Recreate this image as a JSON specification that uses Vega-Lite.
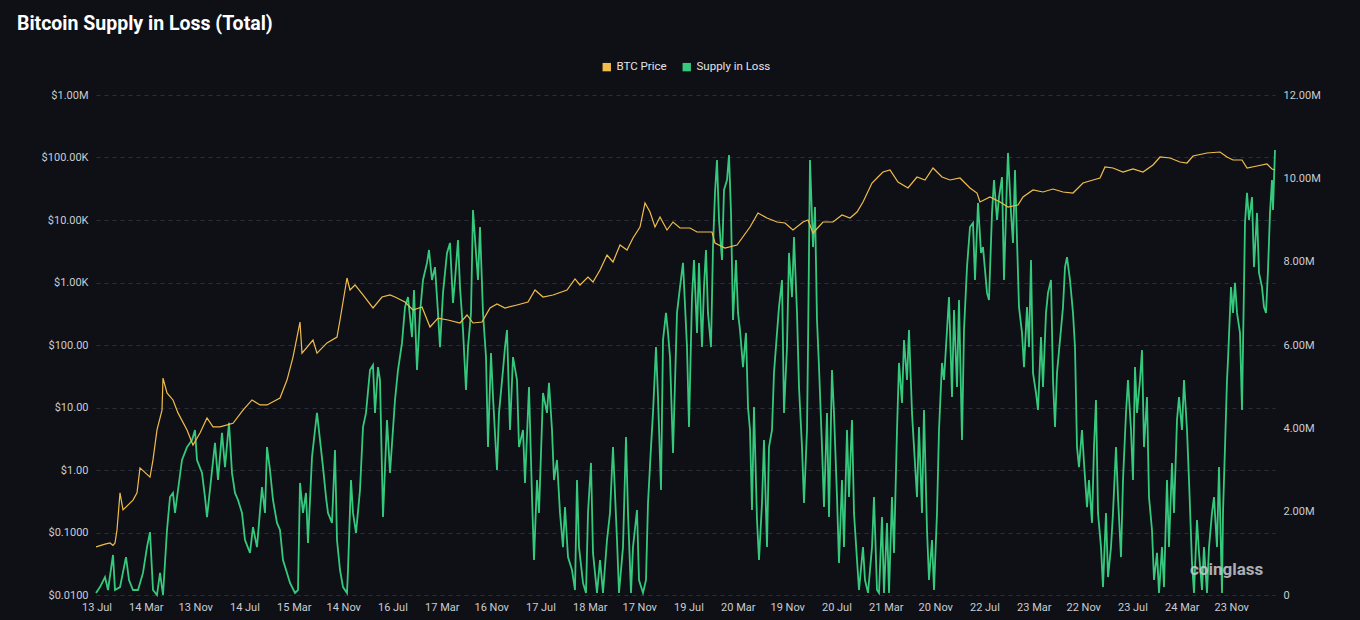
{
  "$schema": "https://vega.github.io/schema/vega-lite/v6.json",
  "width": 1179,
  "height": 500,
  "autosize": {"type": "none"},
  "padding": {"left": 96, "top": 95, "right": 85, "bottom": 25},
  "background": "#0e1016",
  "title": {
    "text": "Bitcoin Supply in Loss (Total)",
    "anchor": "start",
    "frame": "group",
    "dx": -79,
    "offset": 27,
    "font": "Roboto",
    "fontSize": 19.5,
    "fontWeight": "bold",
    "color": "#ffffff"
  },
  "datasets": {
    "price": [
      {"day": 0, "price": 0.059}, {"day": 45, "price": 0.065}, {"day": 70, "price": 0.068}, {"day": 85, "price": 0.062},
      {"day": 95, "price": 0.068}, {"day": 105, "price": 0.11}, {"day": 120, "price": 0.43}, {"day": 135, "price": 0.23},
      {"day": 185, "price": 0.33}, {"day": 205, "price": 0.43}, {"day": 220, "price": 1.08}, {"day": 270, "price": 0.77},
      {"day": 285, "price": 1.45}, {"day": 305, "price": 4.37}, {"day": 330, "price": 9.1}, {"day": 335, "price": 29.6},
      {"day": 355, "price": 17.1}, {"day": 385, "price": 13.2}, {"day": 410, "price": 8.2}, {"day": 455, "price": 4.37},
      {"day": 485, "price": 2.51}, {"day": 520, "price": 3.9}, {"day": 555, "price": 6.8}, {"day": 585, "price": 4.9},
      {"day": 620, "price": 4.9}, {"day": 685, "price": 5.6}, {"day": 735, "price": 9.1}, {"day": 780, "price": 13.2},
      {"day": 820, "price": 11.0}, {"day": 855, "price": 11.0}, {"day": 920, "price": 14.2}, {"day": 955, "price": 27.5},
      {"day": 985, "price": 64}, {"day": 1020, "price": 233}, {"day": 1030, "price": 74}, {"day": 1085, "price": 120},
      {"day": 1105, "price": 74}, {"day": 1155, "price": 108}, {"day": 1205, "price": 134}, {"day": 1220, "price": 251},
      {"day": 1255, "price": 1180}, {"day": 1270, "price": 759}, {"day": 1295, "price": 912}, {"day": 1335, "price": 631},
      {"day": 1385, "price": 391}, {"day": 1430, "price": 586}, {"day": 1470, "price": 631}, {"day": 1495, "price": 586},
      {"day": 1545, "price": 488}, {"day": 1585, "price": 363}, {"day": 1630, "price": 406}, {"day": 1670, "price": 194},
      {"day": 1710, "price": 270}, {"day": 1760, "price": 251}, {"day": 1820, "price": 225}, {"day": 1855, "price": 302},
      {"day": 1885, "price": 225}, {"day": 1930, "price": 233}, {"day": 1970, "price": 391}, {"day": 2005, "price": 453},
      {"day": 2045, "price": 391}, {"day": 2105, "price": 437}, {"day": 2160, "price": 488}, {"day": 2195, "price": 759},
      {"day": 2235, "price": 586}, {"day": 2285, "price": 631}, {"day": 2355, "price": 759}, {"day": 2395, "price": 1138},
      {"day": 2420, "price": 912}, {"day": 2460, "price": 1225}, {"day": 2485, "price": 1019}, {"day": 2520, "price": 1585},
      {"day": 2555, "price": 2754}, {"day": 2585, "price": 2128}, {"day": 2620, "price": 3981}, {"day": 2655, "price": 3311},
      {"day": 2685, "price": 5152}, {"day": 2720, "price": 7727}, {"day": 2745, "price": 18700}, {"day": 2770, "price": 13430},
      {"day": 2795, "price": 7727}, {"day": 2820, "price": 11170}, {"day": 2855, "price": 6918}, {"day": 2885, "price": 9290},
      {"day": 2920, "price": 7447}, {"day": 2970, "price": 7447}, {"day": 3005, "price": 6427}, {"day": 3080, "price": 6427},
      {"day": 3095, "price": 4285}, {"day": 3145, "price": 3565}, {"day": 3205, "price": 3981}, {"day": 3270, "price": 7727},
      {"day": 3310, "price": 12940}, {"day": 3355, "price": 10770}, {"day": 3405, "price": 9290}, {"day": 3445, "price": 8954},
      {"day": 3485, "price": 6918}, {"day": 3535, "price": 9290}, {"day": 3560, "price": 10000}, {"day": 3585, "price": 6194},
      {"day": 3635, "price": 9290}, {"day": 3685, "price": 9290}, {"day": 3730, "price": 12020}, {"day": 3770, "price": 10770},
      {"day": 3805, "price": 13430}, {"day": 3835, "price": 19410}, {"day": 3880, "price": 39080}, {"day": 3910, "price": 48750},
      {"day": 3935, "price": 58610}, {"day": 3970, "price": 63100}, {"day": 4010, "price": 40550}, {"day": 4060, "price": 32510},
      {"day": 4105, "price": 48750}, {"day": 4145, "price": 43650}, {"day": 4185, "price": 67920}, {"day": 4230, "price": 48750},
      {"day": 4270, "price": 43650}, {"day": 4320, "price": 46990}, {"day": 4370, "price": 32510}, {"day": 4405, "price": 27040},
      {"day": 4420, "price": 19410}, {"day": 4470, "price": 23330}, {"day": 4520, "price": 19410}, {"day": 4560, "price": 16140},
      {"day": 4610, "price": 17380}, {"day": 4635, "price": 23330}, {"day": 4685, "price": 30200}, {"day": 4735, "price": 28050},
      {"day": 4785, "price": 31330}, {"day": 4835, "price": 28050}, {"day": 4885, "price": 27040}, {"day": 4935, "price": 39080},
      {"day": 4985, "price": 43650}, {"day": 5020, "price": 46990}, {"day": 5045, "price": 70470}, {"day": 5085, "price": 67920},
      {"day": 5135, "price": 58610}, {"day": 5185, "price": 65460}, {"day": 5235, "price": 58610}, {"day": 5285, "price": 75860},
      {"day": 5320, "price": 101900}, {"day": 5370, "price": 98200}, {"day": 5420, "price": 84720}, {"day": 5455, "price": 81660},
      {"day": 5485, "price": 105700}, {"day": 5555, "price": 118000}, {"day": 5620, "price": 122500}, {"day": 5655, "price": 101900},
      {"day": 5685, "price": 91200}, {"day": 5730, "price": 91200}, {"day": 5755, "price": 67920}, {"day": 5805, "price": 73110},
      {"day": 5855, "price": 78700}, {"day": 5880, "price": 65460}, {"day": 5895, "price": 63100}
    ],
    "loss": [
      {"day": 0, "loss": 0.05}, {"day": 20, "loss": 0.19}, {"day": 45, "loss": 0.43}, {"day": 60, "loss": 0.12},
      {"day": 85, "loss": 0.96}, {"day": 95, "loss": 0.12}, {"day": 120, "loss": 0.19}, {"day": 150, "loss": 0.91},
      {"day": 165, "loss": 0.36}, {"day": 185, "loss": 0.12}, {"day": 210, "loss": 0.12}, {"day": 235, "loss": 0.53},
      {"day": 255, "loss": 1.15}, {"day": 270, "loss": 1.51}, {"day": 285, "loss": 0.12}, {"day": 305, "loss": 0.0},
      {"day": 320, "loss": 0.53}, {"day": 335, "loss": 0.0}, {"day": 355, "loss": 1.56}, {"day": 370, "loss": 2.35},
      {"day": 385, "loss": 2.45}, {"day": 395, "loss": 1.97}, {"day": 410, "loss": 2.52}, {"day": 430, "loss": 3.24},
      {"day": 455, "loss": 3.55}, {"day": 480, "loss": 3.72}, {"day": 495, "loss": 3.96}, {"day": 505, "loss": 3.24},
      {"day": 530, "loss": 2.93}, {"day": 545, "loss": 2.35}, {"day": 555, "loss": 1.87}, {"day": 575, "loss": 2.76},
      {"day": 595, "loss": 3.65}, {"day": 610, "loss": 2.76}, {"day": 630, "loss": 3.89}, {"day": 645, "loss": 3.07},
      {"day": 665, "loss": 4.13}, {"day": 680, "loss": 2.93}, {"day": 695, "loss": 2.45}, {"day": 710, "loss": 2.28},
      {"day": 730, "loss": 1.97}, {"day": 745, "loss": 1.32}, {"day": 770, "loss": 1.01}, {"day": 785, "loss": 1.63},
      {"day": 805, "loss": 1.15}, {"day": 830, "loss": 2.59}, {"day": 845, "loss": 1.97}, {"day": 855, "loss": 3.55},
      {"day": 870, "loss": 3.0}, {"day": 885, "loss": 2.28}, {"day": 905, "loss": 1.73}, {"day": 920, "loss": 1.56},
      {"day": 935, "loss": 0.84}, {"day": 955, "loss": 0.53}, {"day": 970, "loss": 0.29}, {"day": 995, "loss": 0.05},
      {"day": 1010, "loss": 0.12}, {"day": 1020, "loss": 2.69}, {"day": 1035, "loss": 1.97}, {"day": 1050, "loss": 2.45},
      {"day": 1060, "loss": 1.25}, {"day": 1080, "loss": 3.31}, {"day": 1095, "loss": 3.96}, {"day": 1105, "loss": 4.37},
      {"day": 1120, "loss": 3.72}, {"day": 1135, "loss": 3.07}, {"day": 1150, "loss": 2.35}, {"day": 1160, "loss": 1.97},
      {"day": 1180, "loss": 1.73}, {"day": 1195, "loss": 3.48}, {"day": 1205, "loss": 1.32}, {"day": 1220, "loss": 0.6},
      {"day": 1235, "loss": 0.19}, {"day": 1255, "loss": 0.05}, {"day": 1260, "loss": 0.6}, {"day": 1275, "loss": 2.76},
      {"day": 1285, "loss": 1.97}, {"day": 1300, "loss": 1.49}, {"day": 1320, "loss": 2.52}, {"day": 1335, "loss": 4.03},
      {"day": 1350, "loss": 4.37}, {"day": 1370, "loss": 5.4}, {"day": 1385, "loss": 5.52}, {"day": 1395, "loss": 4.37},
      {"day": 1410, "loss": 5.47}, {"day": 1420, "loss": 5.16}, {"day": 1435, "loss": 1.87}, {"day": 1455, "loss": 4.2},
      {"day": 1470, "loss": 2.93}, {"day": 1495, "loss": 4.68}, {"day": 1510, "loss": 5.4}, {"day": 1530, "loss": 6.05},
      {"day": 1545, "loss": 6.91}, {"day": 1560, "loss": 7.15}, {"day": 1580, "loss": 6.19}, {"day": 1590, "loss": 7.32},
      {"day": 1605, "loss": 5.4}, {"day": 1620, "loss": 6.77}, {"day": 1635, "loss": 7.56}, {"day": 1655, "loss": 7.97},
      {"day": 1665, "loss": 8.28}, {"day": 1680, "loss": 7.56}, {"day": 1695, "loss": 7.87}, {"day": 1710, "loss": 6.77},
      {"day": 1720, "loss": 5.95}, {"day": 1735, "loss": 7.25}, {"day": 1755, "loss": 8.21}, {"day": 1770, "loss": 8.45},
      {"day": 1785, "loss": 7.01}, {"day": 1795, "loss": 7.56}, {"day": 1810, "loss": 8.52}, {"day": 1820, "loss": 7.39},
      {"day": 1835, "loss": 6.36}, {"day": 1850, "loss": 4.92}, {"day": 1860, "loss": 5.95}, {"day": 1875, "loss": 6.77},
      {"day": 1885, "loss": 9.24}, {"day": 1900, "loss": 8.21}, {"day": 1910, "loss": 7.56}, {"day": 1920, "loss": 8.83},
      {"day": 1935, "loss": 6.77}, {"day": 1950, "loss": 5.71}, {"day": 1960, "loss": 3.55}, {"day": 1975, "loss": 5.81},
      {"day": 1985, "loss": 4.75}, {"day": 2005, "loss": 3.0}, {"day": 2015, "loss": 4.37}, {"day": 2035, "loss": 5.4},
      {"day": 2045, "loss": 5.95}, {"day": 2055, "loss": 6.36}, {"day": 2070, "loss": 3.96}, {"day": 2085, "loss": 5.71},
      {"day": 2105, "loss": 5.16}, {"day": 2115, "loss": 3.55}, {"day": 2135, "loss": 3.96}, {"day": 2145, "loss": 2.69},
      {"day": 2165, "loss": 4.99}, {"day": 2180, "loss": 2.35}, {"day": 2190, "loss": 0.84}, {"day": 2205, "loss": 2.76},
      {"day": 2215, "loss": 1.97}, {"day": 2235, "loss": 4.85}, {"day": 2255, "loss": 4.37}, {"day": 2265, "loss": 5.09},
      {"day": 2280, "loss": 3.96}, {"day": 2290, "loss": 2.76}, {"day": 2305, "loss": 3.24}, {"day": 2320, "loss": 1.97},
      {"day": 2335, "loss": 1.15}, {"day": 2345, "loss": 2.11}, {"day": 2360, "loss": 0.91}, {"day": 2380, "loss": 0.6},
      {"day": 2395, "loss": 0.12}, {"day": 2405, "loss": 2.76}, {"day": 2415, "loss": 1.15}, {"day": 2435, "loss": 0.29},
      {"day": 2450, "loss": 0.05}, {"day": 2460, "loss": 1.97}, {"day": 2475, "loss": 3.17}, {"day": 2485, "loss": 1.01},
      {"day": 2505, "loss": 0.05}, {"day": 2520, "loss": 0.84}, {"day": 2535, "loss": 0.05}, {"day": 2555, "loss": 1.32},
      {"day": 2570, "loss": 1.97}, {"day": 2585, "loss": 3.55}, {"day": 2605, "loss": 1.32}, {"day": 2615, "loss": 0.05},
      {"day": 2635, "loss": 1.15}, {"day": 2650, "loss": 3.79}, {"day": 2660, "loss": 1.97}, {"day": 2675, "loss": 0.05},
      {"day": 2685, "loss": 1.15}, {"day": 2705, "loss": 2.04}, {"day": 2715, "loss": 0.36}, {"day": 2735, "loss": 0.05},
      {"day": 2750, "loss": 0.36}, {"day": 2760, "loss": 2.21}, {"day": 2775, "loss": 3.55}, {"day": 2785, "loss": 4.37},
      {"day": 2800, "loss": 5.95}, {"day": 2810, "loss": 4.75}, {"day": 2825, "loss": 2.52}, {"day": 2835, "loss": 6.12},
      {"day": 2850, "loss": 6.77}, {"day": 2860, "loss": 6.29}, {"day": 2870, "loss": 5.71}, {"day": 2885, "loss": 3.41},
      {"day": 2905, "loss": 6.77}, {"day": 2920, "loss": 7.39}, {"day": 2935, "loss": 7.97}, {"day": 2955, "loss": 5.95},
      {"day": 2965, "loss": 4.03}, {"day": 2980, "loss": 7.15}, {"day": 2990, "loss": 8.04}, {"day": 3005, "loss": 6.29},
      {"day": 3015, "loss": 7.97}, {"day": 3030, "loss": 5.95}, {"day": 3040, "loss": 7.39}, {"day": 3050, "loss": 8.28},
      {"day": 3060, "loss": 6.77}, {"day": 3075, "loss": 5.95}, {"day": 3085, "loss": 8.35}, {"day": 3095, "loss": 9.65},
      {"day": 3105, "loss": 10.44}, {"day": 3115, "loss": 9.0}, {"day": 3130, "loss": 8.04}, {"day": 3140, "loss": 9.72},
      {"day": 3155, "loss": 9.96}, {"day": 3165, "loss": 10.56}, {"day": 3175, "loss": 9.17}, {"day": 3185, "loss": 6.6},
      {"day": 3200, "loss": 8.04}, {"day": 3210, "loss": 6.77}, {"day": 3220, "loss": 6.36}, {"day": 3235, "loss": 5.47},
      {"day": 3250, "loss": 6.29}, {"day": 3260, "loss": 4.51}, {"day": 3270, "loss": 3.96}, {"day": 3280, "loss": 2.04},
      {"day": 3290, "loss": 4.51}, {"day": 3305, "loss": 1.8}, {"day": 3315, "loss": 0.84}, {"day": 3330, "loss": 2.21},
      {"day": 3340, "loss": 3.72}, {"day": 3355, "loss": 1.15}, {"day": 3365, "loss": 3.55}, {"day": 3380, "loss": 3.96},
      {"day": 3390, "loss": 5.33}, {"day": 3405, "loss": 6.29}, {"day": 3415, "loss": 6.91}, {"day": 3430, "loss": 7.56},
      {"day": 3440, "loss": 4.37}, {"day": 3455, "loss": 5.95}, {"day": 3465, "loss": 8.21}, {"day": 3480, "loss": 7.15},
      {"day": 3490, "loss": 8.59}, {"day": 3505, "loss": 6.77}, {"day": 3515, "loss": 4.99}, {"day": 3530, "loss": 3.55},
      {"day": 3540, "loss": 2.21}, {"day": 3555, "loss": 3.96}, {"day": 3560, "loss": 5.95}, {"day": 3570, "loss": 10.44},
      {"day": 3585, "loss": 8.35}, {"day": 3595, "loss": 9.31}, {"day": 3605, "loss": 6.6}, {"day": 3615, "loss": 5.47},
      {"day": 3630, "loss": 3.55}, {"day": 3640, "loss": 2.11}, {"day": 3655, "loss": 4.37}, {"day": 3665, "loss": 1.87},
      {"day": 3680, "loss": 5.4}, {"day": 3690, "loss": 4.37}, {"day": 3705, "loss": 2.35}, {"day": 3715, "loss": 0.77},
      {"day": 3730, "loss": 2.76}, {"day": 3740, "loss": 1.15}, {"day": 3755, "loss": 3.96}, {"day": 3765, "loss": 2.35},
      {"day": 3780, "loss": 4.2}, {"day": 3790, "loss": 1.97}, {"day": 3805, "loss": 0.84}, {"day": 3815, "loss": 0.12},
      {"day": 3835, "loss": 1.15}, {"day": 3845, "loss": 0.36}, {"day": 3860, "loss": 0.05}, {"day": 3880, "loss": 1.15},
      {"day": 3890, "loss": 2.35}, {"day": 3905, "loss": 0.12}, {"day": 3915, "loss": 0.05}, {"day": 3930, "loss": 1.87},
      {"day": 3940, "loss": 0.05}, {"day": 3955, "loss": 1.73}, {"day": 3965, "loss": 0.05}, {"day": 3980, "loss": 2.35},
      {"day": 3990, "loss": 1.01}, {"day": 4005, "loss": 3.96}, {"day": 4015, "loss": 5.57}, {"day": 4030, "loss": 4.61},
      {"day": 4040, "loss": 6.12}, {"day": 4055, "loss": 5.16}, {"day": 4065, "loss": 6.36}, {"day": 4080, "loss": 4.37},
      {"day": 4090, "loss": 3.55}, {"day": 4105, "loss": 2.35}, {"day": 4115, "loss": 4.03}, {"day": 4130, "loss": 1.97},
      {"day": 4140, "loss": 4.44}, {"day": 4155, "loss": 1.56}, {"day": 4165, "loss": 0.36}, {"day": 4180, "loss": 1.32},
      {"day": 4190, "loss": 0.12}, {"day": 4205, "loss": 1.97}, {"day": 4215, "loss": 3.96}, {"day": 4230, "loss": 5.57},
      {"day": 4240, "loss": 5.16}, {"day": 4255, "loss": 6.36}, {"day": 4265, "loss": 7.15}, {"day": 4280, "loss": 4.75},
      {"day": 4290, "loss": 6.84}, {"day": 4305, "loss": 4.99}, {"day": 4315, "loss": 7.08}, {"day": 4330, "loss": 3.72},
      {"day": 4340, "loss": 6.36}, {"day": 4355, "loss": 7.87}, {"day": 4370, "loss": 8.83}, {"day": 4385, "loss": 8.93},
      {"day": 4395, "loss": 7.56}, {"day": 4410, "loss": 9.41}, {"day": 4425, "loss": 8.21}, {"day": 4435, "loss": 8.35},
      {"day": 4455, "loss": 7.25}, {"day": 4465, "loss": 7.08}, {"day": 4480, "loss": 9.17}, {"day": 4490, "loss": 9.96},
      {"day": 4505, "loss": 9.0}, {"day": 4515, "loss": 9.55}, {"day": 4530, "loss": 10.03}, {"day": 4540, "loss": 7.56},
      {"day": 4555, "loss": 9.96}, {"day": 4560, "loss": 10.61}, {"day": 4575, "loss": 9.17}, {"day": 4585, "loss": 8.45},
      {"day": 4595, "loss": 10.2}, {"day": 4605, "loss": 8.52}, {"day": 4615, "loss": 6.91}, {"day": 4630, "loss": 6.29},
      {"day": 4640, "loss": 5.47}, {"day": 4655, "loss": 6.91}, {"day": 4665, "loss": 5.95}, {"day": 4675, "loss": 8.04},
      {"day": 4685, "loss": 5.33}, {"day": 4700, "loss": 4.85}, {"day": 4710, "loss": 4.44}, {"day": 4725, "loss": 6.19},
      {"day": 4735, "loss": 4.99}, {"day": 4750, "loss": 6.77}, {"day": 4760, "loss": 7.25}, {"day": 4775, "loss": 7.56},
      {"day": 4785, "loss": 5.16}, {"day": 4795, "loss": 4.03}, {"day": 4805, "loss": 5.33}, {"day": 4820, "loss": 6.12},
      {"day": 4835, "loss": 6.91}, {"day": 4845, "loss": 7.87}, {"day": 4855, "loss": 8.11}, {"day": 4870, "loss": 7.56},
      {"day": 4885, "loss": 6.77}, {"day": 4895, "loss": 5.95}, {"day": 4905, "loss": 3.55}, {"day": 4915, "loss": 3.07},
      {"day": 4930, "loss": 3.96}, {"day": 4940, "loss": 3.17}, {"day": 4955, "loss": 2.11}, {"day": 4965, "loss": 2.76},
      {"day": 4980, "loss": 1.73}, {"day": 4990, "loss": 3.55}, {"day": 5000, "loss": 4.68}, {"day": 5010, "loss": 1.97},
      {"day": 5025, "loss": 1.15}, {"day": 5035, "loss": 0.19}, {"day": 5050, "loss": 1.97}, {"day": 5060, "loss": 0.43},
      {"day": 5075, "loss": 1.15}, {"day": 5085, "loss": 1.97}, {"day": 5100, "loss": 3.55}, {"day": 5110, "loss": 2.35},
      {"day": 5125, "loss": 0.91}, {"day": 5135, "loss": 2.76}, {"day": 5150, "loss": 4.37}, {"day": 5160, "loss": 5.16},
      {"day": 5175, "loss": 3.96}, {"day": 5185, "loss": 2.76}, {"day": 5195, "loss": 5.47}, {"day": 5205, "loss": 4.37},
      {"day": 5220, "loss": 5.16}, {"day": 5230, "loss": 5.88}, {"day": 5240, "loss": 3.55}, {"day": 5255, "loss": 4.75},
      {"day": 5265, "loss": 2.35}, {"day": 5280, "loss": 1.56}, {"day": 5290, "loss": 0.36}, {"day": 5305, "loss": 1.01},
      {"day": 5315, "loss": 0.05}, {"day": 5330, "loss": 1.15}, {"day": 5340, "loss": 0.19}, {"day": 5355, "loss": 2.76},
      {"day": 5365, "loss": 1.15}, {"day": 5380, "loss": 3.17}, {"day": 5390, "loss": 1.97}, {"day": 5405, "loss": 4.2},
      {"day": 5415, "loss": 4.75}, {"day": 5430, "loss": 3.96}, {"day": 5440, "loss": 5.16}, {"day": 5455, "loss": 3.96},
      {"day": 5465, "loss": 2.76}, {"day": 5480, "loss": 0.77}, {"day": 5490, "loss": 0.05}, {"day": 5505, "loss": 1.8},
      {"day": 5515, "loss": 1.01}, {"day": 5530, "loss": 0.12}, {"day": 5540, "loss": 1.15}, {"day": 5555, "loss": 0.05},
      {"day": 5565, "loss": 1.15}, {"day": 5580, "loss": 1.97}, {"day": 5590, "loss": 2.35}, {"day": 5605, "loss": 1.15},
      {"day": 5615, "loss": 3.07}, {"day": 5630, "loss": 0.05}, {"day": 5635, "loss": 1.97}, {"day": 5645, "loss": 3.55},
      {"day": 5655, "loss": 5.16}, {"day": 5660, "loss": 5.64}, {"day": 5675, "loss": 7.39}, {"day": 5685, "loss": 6.77},
      {"day": 5695, "loss": 7.49}, {"day": 5705, "loss": 6.77}, {"day": 5720, "loss": 6.29}, {"day": 5730, "loss": 4.44},
      {"day": 5735, "loss": 5.95}, {"day": 5745, "loss": 8.93}, {"day": 5755, "loss": 9.65}, {"day": 5765, "loss": 9.0},
      {"day": 5780, "loss": 9.55}, {"day": 5790, "loss": 7.87}, {"day": 5805, "loss": 9.17}, {"day": 5815, "loss": 7.73},
      {"day": 5830, "loss": 7.39}, {"day": 5840, "loss": 6.91}, {"day": 5850, "loss": 6.77}, {"day": 5860, "loss": 7.8},
      {"day": 5870, "loss": 9.17}, {"day": 5880, "loss": 9.96}, {"day": 5885, "loss": 9.24}, {"day": 5895, "loss": 10.68}
    ],
    "watermark": [
      {"day": 5470, "loss": 0.6, "label": "coinglass"}
    ]
  },
  "encoding": {
    "x": {
      "field": "day",
      "type": "quantitative",
      "title": null,
      "scale": {"domain": [0, 5895], "nice": false, "zero": false},
      "axis": {
        "values": [2.5, 249, 496, 742, 989, 1236, 1482, 1729, 1976, 2222, 2469, 2716, 2962, 3209, 3456, 3702, 3949, 4196, 4442, 4689, 4936, 5182, 5429, 5676],
        "labelExpr": "['13 Jul','14 Mar','13 Nov','14 Jul','15 Mar','14 Nov','16 Jul','17 Mar','16 Nov','17 Jul','18 Mar','17 Nov','19 Jul','20 Mar','19 Nov','20 Jul','21 Mar','20 Nov','22 Jul','23 Mar','22 Nov','23 Jul','24 Mar','23 Nov'][round((datum.value - 2.5) / 246.65)]",
        "grid": false,
        "ticks": false,
        "domain": false,
        "labelPadding": 6,
        "labelAngle": 0,
        "labelFlush": false,
        "labelOverlap": false
      }
    }
  },
  "layer": [
    {
      "data": {"name": "loss"},
      "mark": {"type": "line", "strokeWidth": 1.8, "interpolate": "linear"},
      "encoding": {
        "y": {
          "field": "loss",
          "type": "quantitative",
          "title": null,
          "scale": {"domain": [0, 12], "nice": false},
          "axis": {
            "orient": "right",
            "values": [0, 2, 4, 6, 8, 10, 12],
            "labelExpr": "datum.value == 0 ? '0' : format(datum.value, '.2f') + 'M'",
            "grid": false,
            "ticks": false,
            "domain": false,
            "labelPadding": 8
          }
        },
        "color": {"datum": "Supply in Loss"}
      }
    },
    {
      "data": {"name": "price"},
      "mark": {"type": "line", "strokeWidth": 1.2, "interpolate": "linear"},
      "encoding": {
        "y": {
          "field": "price",
          "type": "quantitative",
          "title": null,
          "scale": {"type": "log", "domain": [0.01, 1000000], "nice": false},
          "axis": {
            "orient": "left",
            "values": [0.01, 0.1, 1, 10, 100, 1000, 10000, 100000, 1000000],
            "labelExpr": "datum.value >= 1000000 ? '$' + format(datum.value / 1000000, '.2f') + 'M' : datum.value >= 1000 ? '$' + format(datum.value / 1000, '.2f') + 'K' : datum.value >= 1 ? '$' + format(datum.value, '.2f') : '$' + format(datum.value, '.4f')",
            "grid": true,
            "gridColor": "#2a2e38",
            "gridDash": [4, 4],
            "gridWidth": 1,
            "ticks": false,
            "domain": false,
            "labelPadding": 8
          }
        },
        "color": {
          "datum": "BTC Price",
          "scale": {
            "domain": ["BTC Price", "Supply in Loss"],
            "range": ["#f0bd4c", "#36c97d"]
          },
          "legend": {
            "title": null,
            "orient": "top",
            "direction": "horizontal",
            "symbolType": "square",
            "symbolSize": 70,
            "symbolStrokeWidth": 0,
            "labelColor": "#e2e4e8",
            "labelFontSize": 11.5,
            "labelFont": "Roboto",
            "columnPadding": 14,
            "offset": 22,
            "encode": {
              "symbols": {"update": {"fill": {"scale": "color", "field": "value"}, "fillOpacity": {"value": 1}}}
            }
          }
        }
      }
    },
    {
      "data": {"name": "watermark"},
      "mark": {
        "type": "text",
        "align": "left",
        "baseline": "middle",
        "font": "Roboto",
        "fontSize": 17,
        "fontWeight": "bold",
        "color": "#c8cacd",
        "opacity": 0.85
      },
      "encoding": {
        "y": {"field": "loss", "type": "quantitative", "scale": {"domain": [0, 12], "nice": false}, "axis": null},
        "text": {"field": "label"}
      }
    }
  ],
  "resolve": {"scale": {"y": "independent"}},
  "config": {
    "view": {"stroke": null},
    "font": "Roboto",
    "axis": {"labelColor": "#c9ccd2", "labelFontSize": 11, "labelFont": "Roboto"},
    "legend": {"layout": {"top": {"anchor": "middle"}}}
  }
}
